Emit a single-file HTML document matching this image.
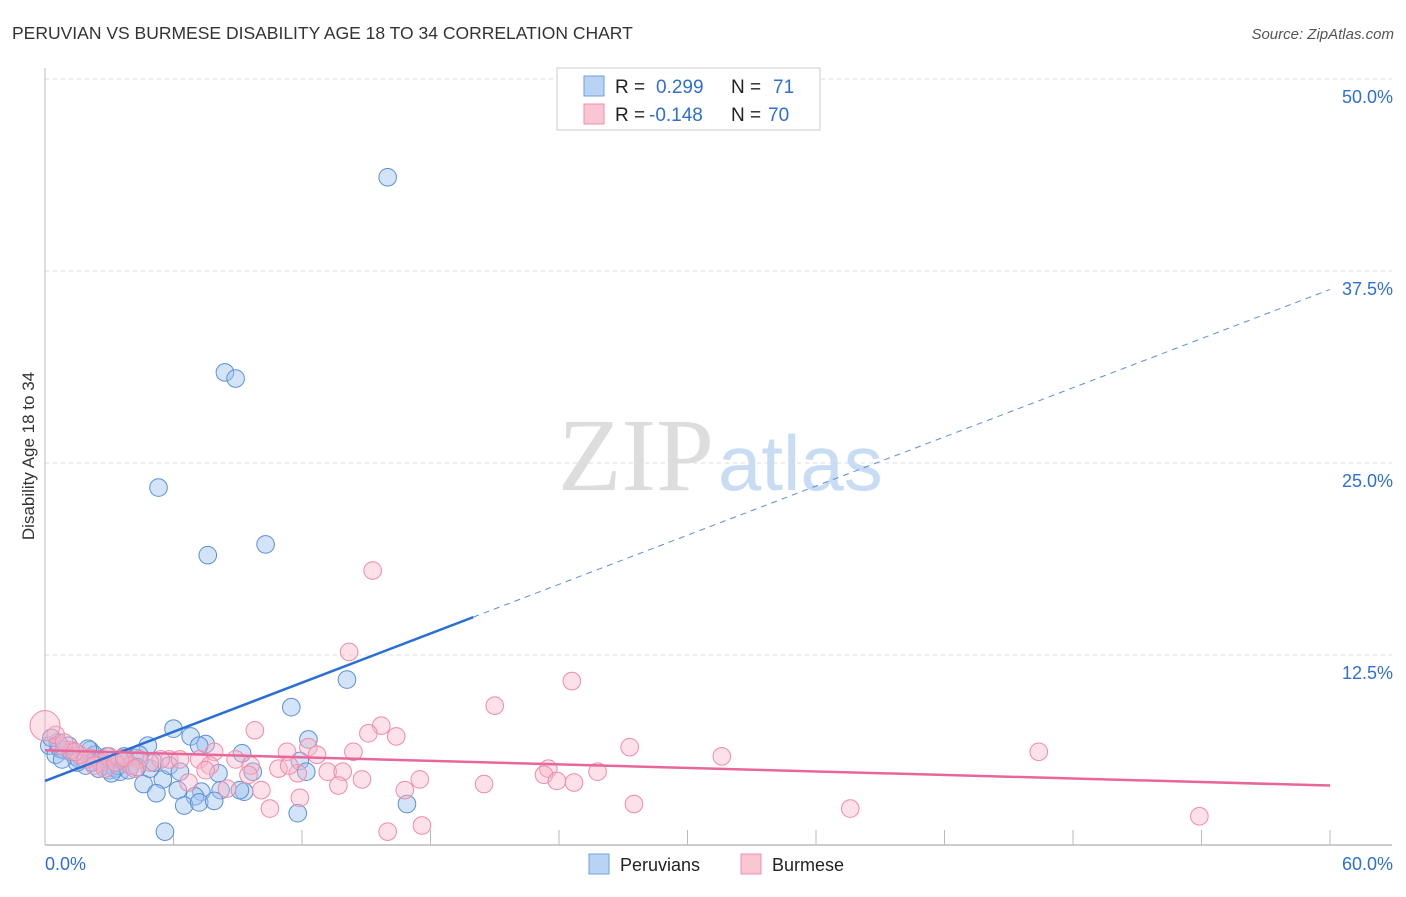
<!DOCTYPE html>
<html><head><meta charset="utf-8"><style>
body{margin:0;background:#fff;font-family:"Liberation Sans",sans-serif}
</style></head><body>
<svg id="c" width="1406" height="892" xmlns="http://www.w3.org/2000/svg">
<text x="12" y="39" font-size="17.5" fill="#333">PERUVIAN VS BURMESE DISABILITY AGE 18 TO 34 CORRELATION CHART</text>
<text x="1394" y="39" font-size="15" fill="#555" font-style="italic" text-anchor="end">Source: ZipAtlas.com</text>
<text x="34" y="456" font-size="17" fill="#333" text-anchor="middle" transform="rotate(-90 34 456)">Disability Age 18 to 34</text>
<text x="714" y="490" font-size="104" fill="#ddd" text-anchor="end" font-family="Liberation Serif,serif">ZIP</text>
<text x="718" y="490" font-size="78" fill="#c8dcf3">atlas</text>
<g id="grid"></g><g id="marks"></g>
<g>
<rect x="557" y="68" width="263" height="62" fill="#fff" stroke="#ccc"/>
<rect x="584" y="76" width="20" height="20" fill="#b9d3f5" stroke="#6f9fe0"/>
<rect x="584" y="104" width="20" height="20" fill="#fbc6d4" stroke="#ef8fab"/>
<text x="615" y="93" font-size="19" fill="#222">R =</text><text x="656" y="93" font-size="19" fill="#2f6fd0">0.299</text>
<text x="731" y="93" font-size="19" fill="#222">N =</text><text x="773" y="93" font-size="19" fill="#2f6fd0">71</text>
<text x="615" y="121" font-size="19" fill="#222">R =</text><text x="649" y="121" font-size="19" fill="#2f6fd0">-0.148</text>
<text x="731" y="121" font-size="19" fill="#222">N =</text><text x="768" y="121" font-size="19" fill="#2f6fd0">70</text>
</g>
<g>
<rect x="589" y="854" width="20" height="20" fill="#b9d3f5" stroke="#6f9fe0"/>
<text x="620" y="871" font-size="18" fill="#222">Peruvians</text>
<rect x="741" y="854" width="20" height="20" fill="#fbc6d4" stroke="#ef8fab"/>
<text x="772" y="871" font-size="18" fill="#222">Burmese</text>
</g>
</svg>
<script>
const yTicks=[12.5,25,37.5,50];
const xTickLabels=["0.0%","60.0%"];
const blueX=[16.0,8.4,8.9,5.3,7.6,10.3,14.1,11.5,6.0,12.3,6.8,7.5,4.8,9.2,11.9,9.7,12.2,8.1,5.5,4.6,6.2,5.2,7.3,8.2,7.0,6.5,7.2,7.9,9.3,16.9,11.8,5.6,0.2,0.5,0.7,0.9,1.2,1.4,1.6,1.9,2.1,2.3,2.6,2.8,3.0,3.3,3.5,3.7,4.0,4.2,4.4,4.9,5.1,2.0,1.1,1.5,2.5,2.9,3.4,3.9,0.6,5.8,6.3,9.1,3.1,3.7,0.3,0.8,2.2,4.3,7.2];
const blueY=[43.6,30.9,30.5,23.4,19.0,19.7,10.9,9.1,7.7,7.0,7.2,6.7,6.6,6.1,5.6,4.9,4.9,4.8,4.4,4.1,3.7,3.5,3.6,3.7,3.3,2.7,2.9,3.0,3.6,2.8,2.2,1.0,6.6,6.0,6.4,6.3,6.2,5.9,5.7,5.3,6.3,6.0,5.7,5.3,5.0,5.1,4.9,5.7,5.3,5.8,6.0,5.1,5.5,6.4,6.6,5.5,5.1,5.9,5.3,5.0,6.8,5.3,4.9,3.7,4.8,5.9,7.1,5.7,5.5,5.2,6.6];
const pinkX=[15.3,14.2,24.6,21.0,9.8,15.7,16.4,15.1,27.3,31.6,46.4,12.3,14.4,12.7,11.3,7.9,7.2,8.9,10.9,11.8,13.2,13.9,14.8,17.5,16.8,13.7,20.5,23.5,23.3,23.9,24.7,25.8,27.5,37.6,53.9,16.0,17.6,11.9,10.5,10.1,8.5,6.7,5.8,5.4,4.9,4.4,4.0,3.5,3.0,2.6,2.1,1.6,1.2,0.7,0.5,0.9,1.4,1.9,2.3,2.8,3.3,3.7,4.2,6.3,7.7,9.6,11.4,7.5,9.5];
const pinkY=[18.0,12.7,10.8,9.2,7.6,7.9,7.2,7.4,6.5,5.9,6.2,6.5,6.2,6.0,6.2,6.2,5.7,5.7,5.1,4.8,4.9,4.9,4.4,4.4,3.7,4.0,4.1,5.1,4.7,4.3,4.2,4.9,2.8,2.5,2.0,1.0,1.4,3.2,2.5,3.7,3.8,4.2,5.7,5.7,5.5,5.7,5.3,5.7,5.9,5.5,5.8,6.0,6.3,6.6,7.3,6.8,6.2,5.7,5.3,5.1,5.5,5.8,5.1,5.7,5.3,5.3,5.3,5.0,4.7];
const blueTrend=[4.3,36.3], pinkTrend=[6.3,4.0], blueSolidEnd=20.0;
const X=v=>45+v*21.417, Y=v=>847-v*15.36;
const NS="http://www.w3.org/2000/svg";
function mk(t,a,p){const e=document.createElementNS(NS,t);for(const k in a)e.setAttribute(k,a[k]);p.appendChild(e);return e;}
const g=document.getElementById('grid'), m=document.getElementById('marks');
yTicks.forEach(v=>{
 const l=mk('line',{x1:45,x2:1392,y1:Y(v),y2:Y(v),stroke:'#ddd','stroke-dasharray':'4,4'},g);
 
 
 const t=mk('text',{x:1393,y:Y(v)+24,'font-size':18,fill:'#2f6fd0','text-anchor':'end'},g);t.textContent=v.toFixed(1)+'%';
 
 
});
mk('line',{x1:45,x2:45,y1:68,y2:845,stroke:'#bbb'},g);
mk('line',{x1:45,x2:1392,y1:845,y2:845,stroke:'#bbb','stroke-width':1.5},g);
for(let i=1;i<=10;i++)mk('line',{x1:X(i*6),x2:X(i*6),y1:830,y2:845,stroke:'#bbb'},g);
const t0=mk('text',{x:45,y:870,'font-size':18,fill:'#2f6fd0'},g);t0.textContent=xTickLabels[0];


const t1=mk('text',{x:1393,y:870,'font-size':18,fill:'#2f6fd0','text-anchor':'end'},g);t1.textContent=xTickLabels[1];


blueX.forEach((x,i)=>{const c=mk('circle',{cx:X(x),cy:Y(blueY[i]),r:8.8,fill:'rgba(160,196,240,0.45)',stroke:'#5b8fd6','stroke-width':1},m);
 
 });
pinkX.forEach((x,i)=>{const c=mk('circle',{cx:X(x),cy:Y(pinkY[i]),r:8.8,fill:'rgba(248,180,200,0.4)',stroke:'#f08aa8','stroke-width':1},m);
 
 });
const big=mk('circle',{cx:X(0),cy:Y(7.9),r:15,fill:'rgba(248,180,200,0.4)',stroke:'#f08aa8'},m);


const by=x=>blueTrend[0]+(blueTrend[1]-blueTrend[0])*x/60;
const bl=mk('line',{x1:X(0),y1:Y(by(0)),x2:X(blueSolidEnd),y2:Y(by(blueSolidEnd)),stroke:'#2a6fd6','stroke-width':2.5},m);


const bd=mk('line',{x1:X(blueSolidEnd),y1:Y(by(blueSolidEnd)),x2:X(60),y2:Y(by(60)),stroke:'#5b8fd6','stroke-width':1,'stroke-dasharray':'6,5'},m);


const pl=mk('line',{x1:X(0),y1:Y(pinkTrend[0]),x2:X(60),y2:Y(pinkTrend[1]),stroke:'#e8679a','stroke-width':2.5},m);


</script>
</body></html>
